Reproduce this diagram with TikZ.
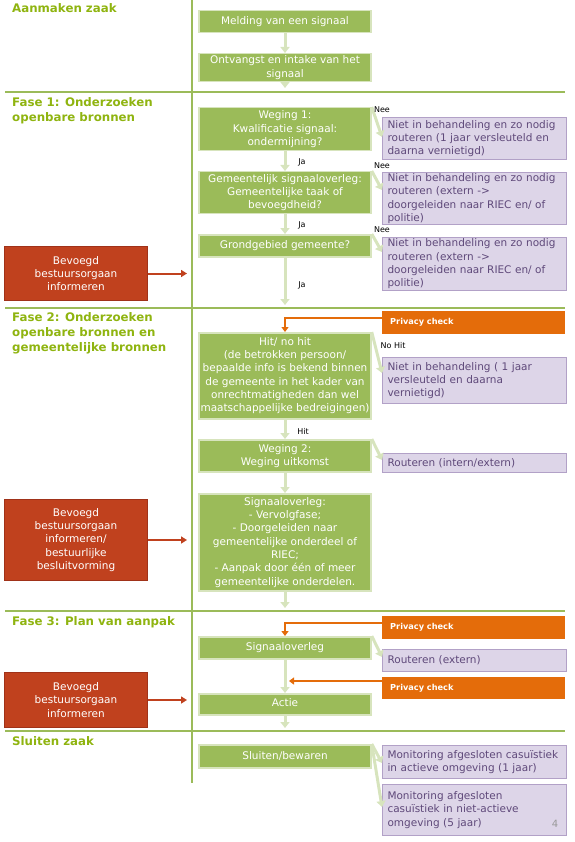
\documentclass[tikz,border=0pt]{standalone}
\usepackage{fontspec}
\setmainfont{DejaVu Sans}
\usepackage{tikz}
\usetikzlibrary{arrows.meta,positioning,calc}
\definecolor{gfill}{RGB}{155,187,89}
\definecolor{gedge}{RGB}{215,228,189}
\definecolor{sepgreen}{RGB}{155,187,89}
\definecolor{tgreen}{RGB}{143,180,16}
\definecolor{pfill}{RGB}{221,213,232}
\definecolor{pedge}{RGB}{178,161,199}
\definecolor{ptext}{RGB}{95,73,122}
\definecolor{ofill}{RGB}{228,108,10}
\definecolor{rfill}{RGB}{192,65,30}
\definecolor{redge}{RGB}{160,50,25}
\newcommand{\boxtxt}{\fontsize{10.5}{13.3}\selectfont}
\tikzset{
  gbox/.style={draw=gedge, line width=1.5pt, fill=gfill, text=white, font=\boxtxt,
    align=center, minimum width=172pt, inner sep=1pt, anchor=north},
  pbox/.style={draw=pedge, line width=1pt, fill=pfill, text=ptext, font=\boxtxt,
    align=left, text width=174pt, inner xsep=5pt, inner ysep=1pt, anchor=north west},
  obox/.style={fill=ofill, text=white, font=\fontsize{8.2}{10}\selectfont\bfseries,
    align=left, text width=167pt, inner xsep=8pt, anchor=north west},
  rbox/.style={draw=redge, line width=1pt, fill=rfill, text=white, font=\boxtxt,
    align=center, minimum width=143pt, anchor=north west},
  fasetitle/.style={text=tgreen, font=\fontsize{11.8}{15}\selectfont\bfseries,
    align=left, anchor=north west, inner sep=0pt},
  lbl/.style={font=\fontsize{8}{9}\selectfont, inner sep=0pt},
  garrow/.style={draw=gedge, line width=3pt, -{Triangle[width=9pt,length=6pt]}},
  oarrow/.style={draw=ofill, line width=2pt, -{Triangle[width=7pt,length=5pt]}},
  rarrow/.style={draw=rfill, line width=2pt, -{Triangle[width=7pt,length=6pt]}},
  sepline/.style={draw=sepgreen, line width=2.5pt}
}
\begin{document}
\begin{tikzpicture}[x=1pt,y=-1pt]
\useasboundingbox (0,0) rectangle (574,842);
% phase lines
\draw[sepline] (192,0) -- (192,783);
\foreach \y in {92,308,611,731}
  \draw[sepline] (5,\y) -- (565,\y);
% phase titles
\node[fasetitle] (tzaak) at (12,3.5) {Aanmaken zaak};
\node[fasetitle] (tfase1) at (12,97.5) {Fase 1: Onderzoeken\\openbare bronnen};
\node[fasetitle] (tfase2) at (12,312.5) {Fase 2: Onderzoeken\\openbare bronnen en\\gemeentelijke bronnen};
\node[fasetitle] (tfase3) at (12,616.5) {Fase 3: Plan van aanpak};
\node[fasetitle] (tsluit) at (12,736.5) {Sluiten zaak};
% main steps
\node[gbox, minimum height=22pt] (melding) at (285,10) {Melding van een signaal};
\node[gbox, minimum height=28pt] (ontvangst) at (285,53) {Ontvangst en intake van het\\signaal};
\node[gbox, minimum height=43pt] (weging1) at (285,107) {Weging 1:\\Kwalificatie signaal:\\ondermijning?};
\node[gbox, minimum height=42pt] (gemsig) at (285,171) {Gemeentelijk signaaloverleg:\\Gemeentelijke taak of\\bevoegdheid?};
\node[gbox, minimum height=22pt] (grond) at (285,234) {Grondgebied gemeente?};
\node[gbox, minimum height=86pt] (hit) at (285,332) {Hit/ no hit\\(de betrokken persoon/\\bepaalde info is bekend binnen\\de gemeente in het kader van\\onrechtmatigheden dan wel\\maatschappelijke bedreigingen)};
\node[gbox, minimum height=32pt] (weging2) at (285,439) {Weging 2:\\Weging uitkomst};
\node[gbox, minimum height=97pt] (sigover1) at (285,493) {Signaaloverleg:\\- Vervolgfase;\\- Doorgeleiden naar\\gemeentelijke onderdeel of\\RIEC;\\- Aanpak door één of meer\\gemeentelijke onderdelen.};
\node[gbox, minimum height=22pt] (sigover2) at (285,636) {Signaaloverleg};
\node[gbox, minimum height=21pt] (actie) at (285,693) {\raisebox{4pt}{Actie}};
\node[gbox, minimum height=23pt] (sluiten) at (285,744) {Sluiten/bewaren};
% side outcomes
\node[pbox, minimum height=42pt] (niet1) at (382,117) {Niet in behandeling en zo nodig\\routeren (1 jaar versleuteld en\\daarna vernietigd)};
\node[pbox, minimum height=52pt] (niet2) at (382,172) {Niet in behandeling en zo nodig\\routeren (extern ->\\doorgeleiden naar RIEC en/ of\\politie)};
\node[pbox, minimum height=53pt] (niet3) at (382,237) {Niet in behandeling en zo nodig\\routeren (extern ->\\doorgeleiden naar RIEC en/ of\\politie)};
\node[pbox, minimum height=46pt] (niet4) at (382,357) {Niet in behandeling ( 1 jaar\\versleuteld en daarna\\vernietigd)};
\node[pbox, minimum height=19pt] (rout1) at (382,453) {Routeren (intern/extern)};
\node[pbox, minimum height=22pt] (rout2) at (382,649) {Routeren (extern)};
\node[pbox, minimum height=33pt] (mon1) at (382,745) {Monitoring afgesloten casuïstiek\\in actieve omgeving (1 jaar)};
\node[pbox, minimum height=51pt] (mon2) at (382,784) {Monitoring afgesloten\\casuïstiek in niet-actieve\\omgeving (5 jaar)};
\node[font=\fontsize{10}{12}\selectfont, text=black!40] (pagenr) at (555,824) {4};
% privacy checks
\node[obox, minimum height=23pt] (priv1) at (382,311) {Privacy check};
\node[obox, minimum height=23pt] (priv2) at (382,616) {Privacy check};
\node[obox, minimum height=22pt] (priv3) at (382,677) {Privacy check};
% bestuursorgaan
\node[rbox, minimum height=54pt] (bevoegd1) at (4,246) {Bevoegd\\bestuursorgaan\\informeren};
\node[rbox, minimum height=81pt] (bevoegd2) at (4,499) {Bevoegd\\bestuursorgaan\\informeren/\\bestuurlijke\\besluitvorming};
\node[rbox, minimum height=55pt] (bevoegd3) at (4,672) {Bevoegd\\bestuursorgaan\\informeren};
% loose ends
\coordinate (end0) at (285,88);
\coordinate (end1) at (285,305);
\coordinate (end2) at (285,608);
\coordinate (end3) at (285,728);
\coordinate (actin) at (289,681);
\coordinate (rtip) at (187,0);
% flow
\draw[garrow] (melding) -- (ontvangst);
\draw[garrow] (ontvangst) -- (end0);
\draw[garrow] (weging1) -- (gemsig);
\draw[garrow] (gemsig) -- (grond);
\draw[garrow] (grond) -- (end1);
\draw[garrow] (hit) -- (weging2);
\draw[garrow] (weging2) -- (sigover1);
\draw[garrow] (sigover1) -- (end2);
\draw[garrow] (sigover2) -- (actie);
\draw[garrow] (actie) -- (end3);
\draw[garrow] (weging1.north east) -- ($(niet1.north west)+(0,20)$);
\draw[garrow] (gemsig.north east) -- ($(niet2.north west)+(0,18)$);
\draw[garrow] (grond.north east) -- ($(niet3.north west)+(0,15)$);
\draw[garrow] (hit.north east) -- ($(niet4.north west)+(0,16)$);
\draw[garrow] (weging2.north east) -- ($(rout1.north west)+(0,7)$);
\draw[garrow] (sigover2.north east) -- ($(rout2.north west)+(0,8)$);
\draw[garrow] (sluiten.north east) -- ($(mon1.north west)+(0,18)$);
\draw[garrow] (sluiten.north east) -- ($(mon2.north west)+(0,23)$);
\draw[oarrow] ($(priv1.north west)+(0,7)$) -| (hit.north);
\draw[oarrow] ($(priv2.north west)+(0,7)$) -| (sigover2.north);
\draw[oarrow] (priv3.west |- actin) -- (actin);
\draw[rarrow] (bevoegd1.east) -- (bevoegd1.east -| rtip);
\draw[rarrow] (bevoegd2.east) -- (bevoegd2.east -| rtip);
\draw[rarrow] (bevoegd3.east) -- (bevoegd3.east -| rtip);
% labels
\node[lbl] (nee1) at (382,110) {Nee};
\node[lbl] (nee2) at (382,166) {Nee};
\node[lbl] (nee3) at (382,230) {Nee};
\node[lbl] (nohit) at (393,346) {No Hit};
\node[lbl] (ja1) at (302,162) {Ja};
\node[lbl] (ja2) at (302,225) {Ja};
\node[lbl] (ja3) at (302,285) {Ja};
\node[lbl] (hitlbl) at (303,431) {Hit};
\end{tikzpicture}
\end{document}
